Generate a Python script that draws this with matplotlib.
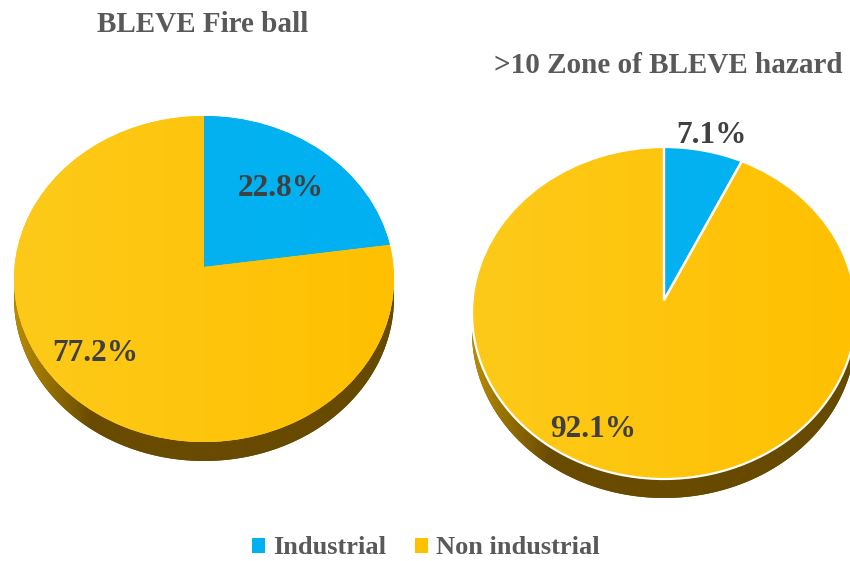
import numpy as np
import matplotlib.pyplot as plt
from matplotlib.path import Path
from matplotlib.patches import PathPatch
from matplotlib.transforms import Affine2D, Transform
from matplotlib.colors import LinearSegmentedColormap

plt.rcParams['font.family'] = ['Liberation Serif', 'DejaVu Serif']

# Datos
categorias = ["Industrial", "Non industrial"]
fireball = [22.8, 77.2]
zona_bleve = [7.1, 92.1]
titulos = ["BLEVE Fire ball", ">10 Zone of BLEVE hazard"]
colores = ["#00b0f0", "#ffc000"]
claros = ["#08b4f2", "#fdca1a"]

W, H = 850, 561
fig = plt.figure(figsize=(W / 100, H / 100), dpi=100)
ax = fig.add_axes([0, 0, 1, 1])
ax.set_autoscale_on(False)

grad = np.linspace(0, 1, 256).reshape(1, -1)
cmap_lado = LinearSegmentedColormap.from_list(
    "lado", [(0, "#b88c00"), (0.2, "#6a4c00"), (1, "#664a00")])


class Inclinacion(Transform):
    # perspectiva del disco: el circulo unidad queda igual, el centro sube a (0, a)
    input_dims = output_dims = 2

    def __init__(self, a):
        super().__init__()
        self.a = a

    def transform_non_affine(self, values):
        values = np.asarray(values, dtype=float)
        u, v = values[:, 0], values[:, 1]
        d = 1 + self.a * v
        return np.column_stack([u * np.sqrt(1 - self.a ** 2) / d, (v + self.a) / d])


def pie3d(valores, cx, cy, rx, ry, prof, a, borde, pos_etiq):
    # lateral del disco (solo la mitad de abajo se ve)
    t = np.linspace(0, np.pi, 200)
    xs = cx + rx * np.cos(t)
    ys = cy + ry * np.sin(t)
    verts = np.concatenate([np.column_stack([xs, ys]),
                            np.column_stack([xs[::-1], ys[::-1] + prof])])
    lado = PathPatch(Path(verts), facecolor="#6a4c00", edgecolor="none", zorder=1)
    ax.add_patch(lado)
    im = ax.imshow(grad, cmap=cmap_lado, extent=(cx - rx, cx + rx, cy + ry + prof, cy),
                   aspect="auto", zorder=1.1)
    im.set_clip_path(lado)

    tr = (Affine2D().translate(-cx, -cy).scale(1 / rx) + Inclinacion(a)
          + Affine2D().scale(rx, ry).translate(cx, cy) + ax.transData)

    wedges, _ = ax.pie(valores, colors=colores, startangle=-90, counterclock=True,
                       center=(cx, cy), radius=rx, frame=True,
                       wedgeprops=dict(linewidth=0, zorder=2))
    for w, c1, c2 in zip(wedges, claros, colores):
        w.set_transform(tr)
        cm = LinearSegmentedColormap.from_list("cara", [c1, c2])
        img = ax.imshow(grad, cmap=cm, extent=(cx - rx, cx + rx, cy + ry, cy - ry),
                        aspect="auto", zorder=2.1)
        img.set_clip_path(w)

    if borde:
        bordes, _ = ax.pie(valores, startangle=-90, counterclock=True,
                           center=(cx, cy), radius=rx, frame=True,
                           wedgeprops=dict(fill=False, edgecolor="white", linewidth=1.6, zorder=3))
        for b in bordes:
            b.set_transform(tr)

    for v, (px, py) in zip(valores, pos_etiq):
        ax.text(cx + px * rx, cy + py * ry, f"{v}%", ha="center", va="center",
                fontsize=22.5, fontweight="bold", color="#404040", zorder=4)
    return wedges


w1 = pie3d(fireball, 204, 279, 190, 163, 19, -0.074, False, [(0.405, -0.555), (-0.574, 0.46)])
w2 = pie3d(zona_bleve, 664, 313, 192, 166, 19, -0.078, True, [(0.245, -1.07), (-0.37, 0.70)])

ax.text(203, 24, titulos[0], ha="center", va="center", fontsize=21,
        fontweight="bold", color="#595959")
ax.text(668, 65, titulos[1], ha="center", va="center", fontsize=21,
        fontweight="bold", color="#595959")

ax.set_xlim(0, W)
ax.set_ylim(H, 0)
ax.set_aspect("auto")
ax.set_position([0, 0, 1, 1])
ax.axis("off")

fig.legend(w1, categorias, loc="center", bbox_to_anchor=(426 / W, 1 - 548 / H),
           ncol=2, frameon=False, handlelength=0.5, handleheight=0.5,
           handletextpad=0.3, columnspacing=1.1,
           prop=dict(family="Liberation Serif", weight="bold", size=19),
           labelcolor="#595959")

plt.savefig("out.png", dpi=100)
